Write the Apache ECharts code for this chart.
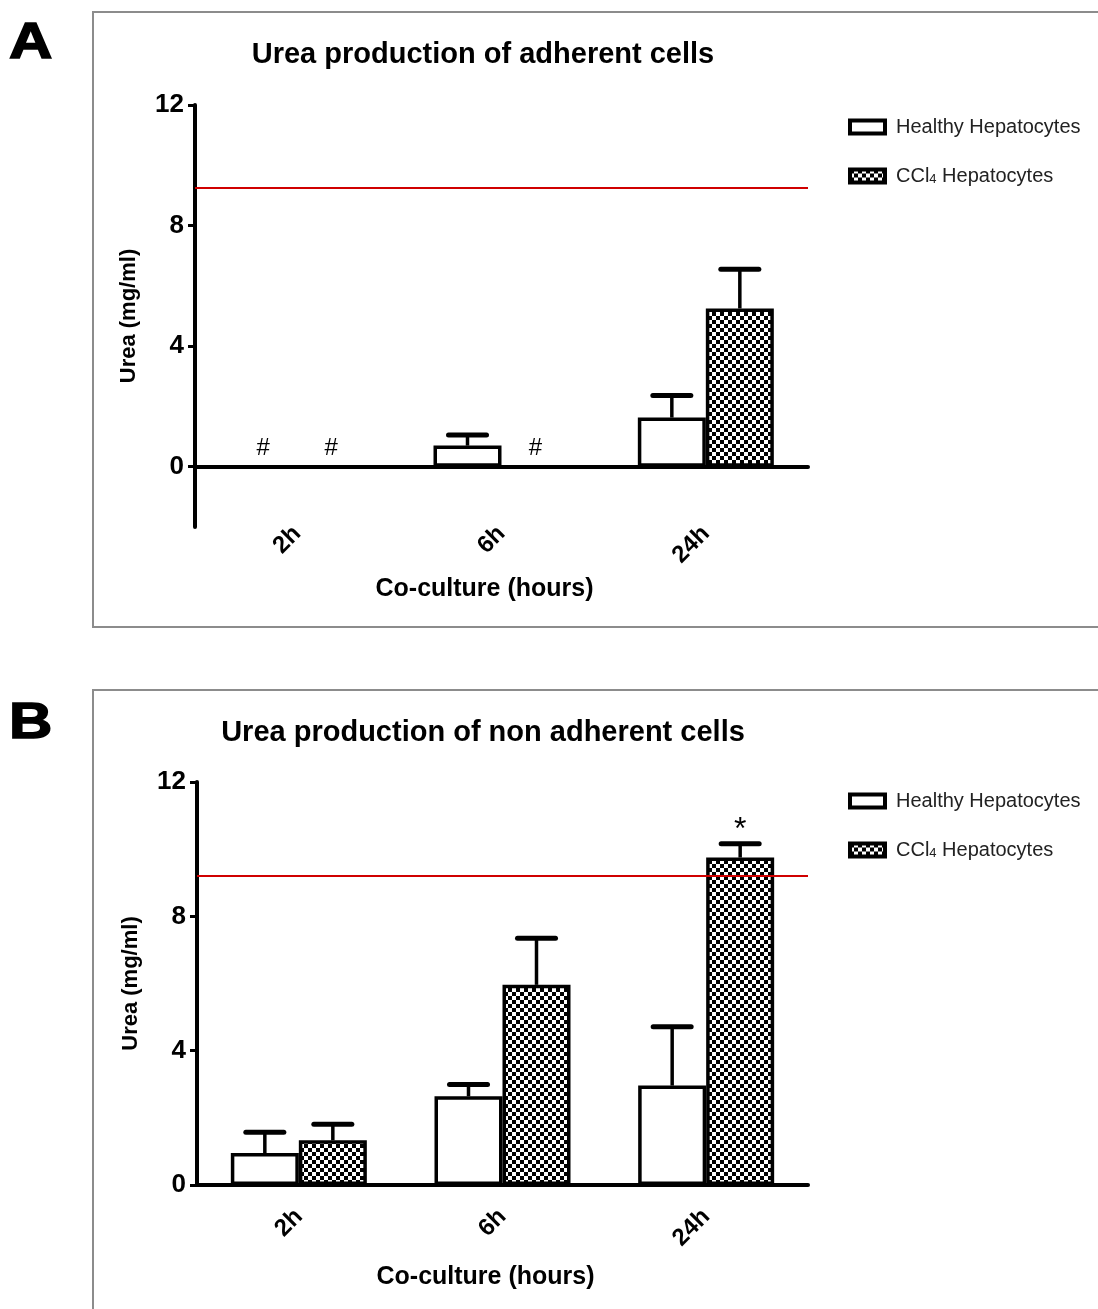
<!DOCTYPE html>
<html>
<head>
<meta charset="utf-8">
<script src="https://cdn.jsdelivr.net/npm/echarts@6/dist/echarts.min.js"></script>
<style>
html, body { margin: 0; padding: 0; background: #fff; }
#chart { width: 1098px; height: 1309px; }
</style>
</head>
<body>
<div id="chart"></div>
<script>
const categories = ['2h', '6h', '24h']
const seriesNames = ['Healthy Hepatocytes', 'CCl4 Hepatocytes']
const yTicks = [0, 4, 8, 12]

// panel A - adherent cells
const healthyA = [0, 0.7, 1.63]
const healthyA_sd = [0, 0.35, 0.73]
const cclA = [0, 0, 5.25]
const cclA_sd = [0, 0, 1.3]
const refA = 9.24
const marksA = [[0, 0, '#'], [0, 1, '#'], [1, 1, '#']]

// panel B - non adherent cells
const healthyB = [0.95, 2.64, 2.96]
const healthyB_sd = [0.62, 0.35, 1.75]
const cclB = [1.33, 5.96, 9.75]
const cclB_sd = [0.48, 1.39, 0.41]
const refB = 9.2
const marksB = [[2, 1, '*']]

const FONT = '"Liberation Sans", Arial, sans-serif'
const BAR_W = 68
const CAP_W = 38

// checker pattern used for the CCl4 bars
const makeChecker = () => {
    let c = document.createElement('canvas')
    c.width = 8
    c.height = 8
    let ctx = c.getContext('2d')
    ctx.fillStyle = '#fff'
    ctx.fillRect(0, 0, 8, 8)
    ctx.fillStyle = '#000'
    ctx.fillRect(0, 0, 4, 4)
    ctx.fillRect(4, 4, 4, 4)
    return c
}
const checker = { image: makeChecker(), repeat: 'repeat' }

const barSeries = (gi, name, values, fill, ref) => {
    let s = {
        name: name,
        type: 'bar',
        xAxisIndex: gi,
        yAxisIndex: gi,
        barWidth: BAR_W,
        barGap: '0%',
        itemStyle: {
            color: fill,
            borderColor: '#000',
            borderWidth: 3.5
        },
        emphasis: { disabled: true },
        data: values
    }
    if (ref !== undefined) {
        s.markLine = {
            silent: true,
            symbol: ['none', 'none'],
            label: { show: false },
            lineStyle: { color: '#d00000', type: 'solid', width: 2 },
            data: [{ yAxis: ref }]
        }
    }
    return s
}

const errSeries = (gi, values, sd, side) => {
    return {
        type: 'custom',
        xAxisIndex: gi,
        yAxisIndex: gi,
        silent: true,
        z: 3,
        data: values.map((v, i) => [i, v, v + sd[i]]),
        renderItem: (params, api) => {
            if (api.value(2) <= api.value(1)) return null
            let b = api.coord([api.value(0), api.value(1)])
            let t = api.coord([api.value(0), api.value(2)])
            let x = b[0] + side * BAR_W / 2
            return {
                type: 'group',
                children: [
                    { type: 'line', shape: { x1: x, y1: b[1], x2: x, y2: t[1] },
                      style: { stroke: '#000', lineWidth: 3.5 } },
                    { type: 'line', shape: { x1: x - CAP_W / 2, y1: t[1], x2: x + CAP_W / 2, y2: t[1] },
                      style: { stroke: '#000', lineWidth: 5, lineCap: 'round' } }
                ]
            }
        }
    }
}

// "#" and "*" marks above bars
const markSeries = (gi, marks, tops, fontSize, lift) => {
    return {
        type: 'custom',
        xAxisIndex: gi,
        yAxisIndex: gi,
        silent: true,
        z: 4,
        data: marks.map(m => [m[0], tops[m[1]][m[0]], m[1]]),
        renderItem: (params, api) => {
            let p = api.coord([api.value(0), api.value(1)])
            let side = api.value(2) === 0 ? -1 : 1
            return {
                type: 'text',
                x: p[0] + side * BAR_W / 2,
                y: p[1] - lift,
                style: {
                    text: marks[params.dataIndex][2],
                    font: fontSize + 'px ' + FONT,
                    fill: '#000',
                    align: 'center',
                    verticalAlign: 'bottom'
                }
            }
        }
    }
}

const xAxisOf = (gi, labelMargin, nameGap) => ({
    type: 'category',
    gridIndex: gi,
    data: categories,
    axisLine: { onZero: true, lineStyle: { color: '#000', width: 4 } },
    axisTick: { alignWithLabel: true, length: 9, lineStyle: { color: '#000', width: 3 } },
    axisLabel: { rotate: 45, margin: labelMargin, color: '#000', fontSize: 24, fontWeight: 'bold', fontFamily: FONT },
    name: 'Co-culture (hours)',
    nameLocation: 'middle',
    nameGap: nameGap,
    nameTextStyle: { color: '#000', fontSize: 25, fontWeight: 'bold', fontFamily: FONT, padding: [0, 34, 0, 0] }
})

const yAxisOf = (gi, min) => ({
    type: 'value',
    gridIndex: gi,
    min: min,
    max: 12,
    interval: 2,
    splitLine: { show: false },
    axisLine: { show: true, lineStyle: { color: '#000', width: 4 } },
    axisTick: { show: true, length: 7, customValues: yTicks, lineStyle: { color: '#000', width: 3 } },
    axisLabel: { customValues: yTicks, margin: 11, color: '#000', fontSize: 26, fontWeight: 'bold', fontFamily: FONT },
    name: 'Urea (mg/ml)',
    nameLocation: 'middle',
    nameGap: 55,
    nameTextStyle: { color: '#000', fontSize: 22, fontWeight: 'bold', fontFamily: FONT }
})

const legendOf = (top) => ({
    orient: 'vertical',
    left: 843,
    top: top,
    icon: 'rect',
    itemWidth: 35,
    itemHeight: 13,
    itemGap: 28,
    selectedMode: false,
    data: seriesNames,
    itemStyle: { borderColor: '#000', borderWidth: 4 },
    formatter: n => n === 'CCl4 Hepatocytes' ? 'CCl{sub|4} Hepatocytes' : n,
    textStyle: {
        color: '#222',
        fontSize: 20,
        fontFamily: FONT,
        lineHeight: 20,
        padding: [0, 0, 0, 6],
        rich: { sub: { fontSize: 13, verticalAlign: 'bottom', lineHeight: 20, padding: [8, 0, 0, 0] } }
    }
})

const titleOf = (text, top) => ({
    text: text,
    left: 478,
    textAlign: 'center',
    top: top,
    textStyle: { color: '#000', fontSize: 29, fontWeight: 'bold', fontFamily: FONT }
})

const frame = (y, h) => ({
    type: 'rect',
    shape: { x: 93, y: y, width: 1020, height: h },
    style: { fill: 'none', stroke: '#8c8c8c', lineWidth: 2 },
    silent: true
})

const letter = (t, y) => ({
    type: 'text',
    left: 8,
    top: y,
    scaleX: 1.2,
    style: { text: t, font: 'bold 50px ' + FONT, fill: '#000', stroke: '#000', lineWidth: 1.5 }
})

let option = {
    animation: false,
    backgroundColor: '#fff',
    title: [
        titleOf('Urea production of adherent cells', 35),
        titleOf('Urea production of non adherent cells', 713)
    ],
    legend: [legendOf(112), legendOf(786)],
    grid: [
        { left: 195, width: 613, top: 105, height: 422 },
        { left: 197, width: 611, top: 782, height: 403 }
    ],
    xAxis: [xAxisOf(0, 3, 50), xAxisOf(1, 28, 80)],
    yAxis: [yAxisOf(0, -2), yAxisOf(1, 0)],
    graphic: [
        frame(12, 615),
        frame(690, 640),
        letter('A', 18),
        letter('B', 698)
    ],
    series: [
        barSeries(0, seriesNames[0], healthyA, '#fff', refA),
        barSeries(0, seriesNames[1], cclA, checker),
        errSeries(0, healthyA, healthyA_sd, -1),
        errSeries(0, cclA, cclA_sd, 1),
        markSeries(0, marksA, [healthyA, cclA], 24, 6),
        barSeries(1, seriesNames[0], healthyB, '#fff', refB),
        barSeries(1, seriesNames[1], cclB, checker),
        errSeries(1, healthyB, healthyB_sd, -1),
        errSeries(1, cclB, cclB_sd, 1),
        markSeries(1, marksB, [healthyB.map((v, i) => v + healthyB_sd[i]), cclB.map((v, i) => v + cclB_sd[i])], 32, -2)
    ]
}

let EC = echarts.init(document.getElementById('chart'))
EC.setOption(option)
</script>
</body>
</html>
